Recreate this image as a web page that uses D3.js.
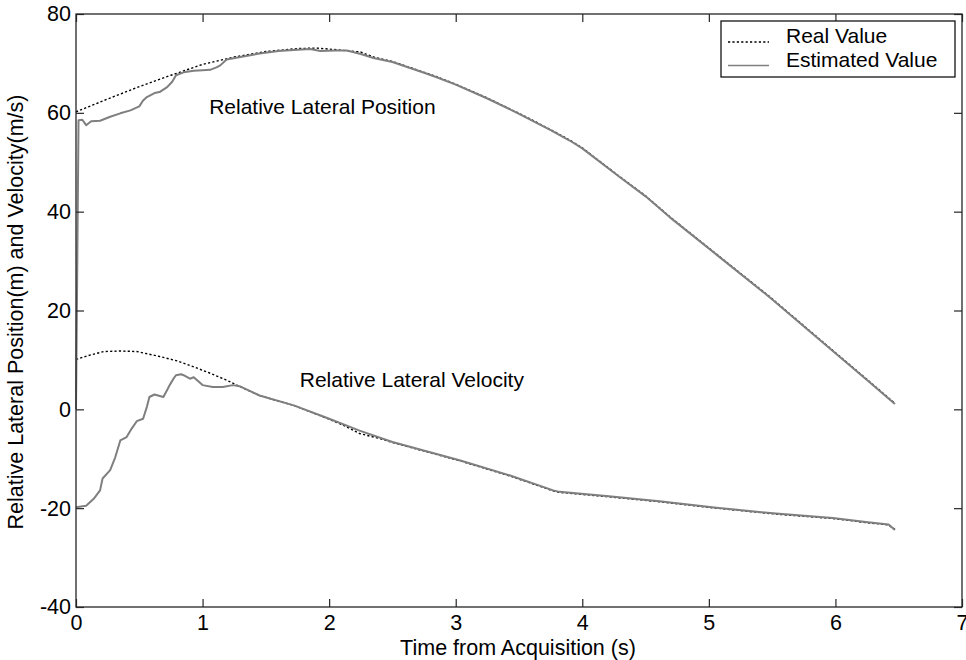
<!DOCTYPE html>
<html>
<head>
<meta charset="utf-8">
<script src="https://cdn.jsdelivr.net/npm/d3@7"></script>
<style>
  html, body { margin: 0; padding: 0; background: #fff; }
  svg { display: block; }
  text { font-family: "Liberation Sans", Arial, Helvetica, sans-serif; fill: #000; }
</style>
</head>
<body>
<svg id="chart" width="966" height="660"></svg>
<script>
// Relative lateral position (m): true trajectory
const realPosT = [0, 0.25, 0.5, 0.75, 1.0, 1.25, 1.5, 1.75, 1.9, 2.0, 2.25, 2.35, 2.5, 2.75, 2.85, 3.0, 3.25, 3.5, 3.75, 3.9, 4.0, 4.29, 4.5, 4.69, 5.08, 5.48, 5.87, 6.27, 6.47];
const realPos  = [60.2, 62.8, 65.3, 67.6, 69.8, 71.3, 72.4, 73.0, 73.1, 72.9, 72.3, 71.3, 70.4, 68.2, 67.3, 65.8, 63.0, 59.9, 56.6, 54.5, 52.9, 47.2, 43.2, 39.0, 31.0, 22.8, 14.3, 5.6, 1.2];

// Relative lateral position (m): filter estimate
const estPosT = [0, 0.01, 0.02, 0.05, 0.08, 0.12, 0.19, 0.27, 0.35, 0.43, 0.5, 0.53, 0.56, 0.62, 0.66, 0.72, 0.76, 0.79, 0.85, 0.93, 1.0, 1.06, 1.11, 1.14, 1.19, 1.3, 1.45, 1.6, 1.72, 1.85, 1.93, 2.05, 2.14, 2.25, 2.35, 2.5, 2.75, 2.85, 3.0, 3.25, 3.5, 3.75, 3.9, 4.0, 4.29, 4.5, 4.69, 5.08, 5.48, 5.87, 6.27, 6.47];
const estPos  = [0, 29, 58.5, 58.6, 57.5, 58.3, 58.4, 59.2, 59.9, 60.5, 61.3, 62.5, 63.2, 64.0, 64.2, 65.2, 66.3, 67.6, 68.2, 68.5, 68.6, 68.7, 69.2, 69.6, 70.8, 71.3, 72.0, 72.5, 72.7, 72.9, 72.5, 72.6, 72.6, 71.9, 71.1, 70.3, 68.1, 67.2, 65.7, 62.9, 59.8, 56.5, 54.4, 52.8, 47.1, 43.1, 38.9, 30.9, 22.7, 14.2, 5.5, 1.1];

// Relative lateral velocity (m/s): true trajectory
const realVelT = [0, 0.1, 0.22, 0.35, 0.48, 0.66, 0.8, 0.93, 1.06, 1.19, 1.32, 1.45, 1.58, 1.72, 1.85, 1.98, 2.11, 2.24, 2.4, 2.5, 3.03, 3.43, 3.77, 3.82, 4.21, 4.61, 5.06, 5.53, 5.98, 6.24, 6.42, 6.47];
const realVel  = [10.1, 10.9, 11.7, 11.8, 11.7, 10.7, 9.8, 8.6, 7.3, 5.9, 4.3, 2.8, 1.8, 0.8, -0.5, -1.8, -3.2, -4.9, -5.9, -6.7, -10.4, -13.5, -16.5, -16.8, -17.7, -18.7, -20.0, -21.2, -22.1, -22.9, -23.4, -24.3];

// Relative lateral velocity (m/s): filter estimate
const estVelT = [0, 0.08, 0.14, 0.19, 0.21, 0.27, 0.31, 0.35, 0.4, 0.44, 0.48, 0.53, 0.56, 0.58, 0.62, 0.69, 0.72, 0.74, 0.77, 0.79, 0.83, 0.85, 0.9, 0.93, 1.0, 1.08, 1.16, 1.24, 1.3, 1.45, 1.72, 1.98, 2.24, 2.5, 3.03, 3.43, 3.77, 3.82, 4.21, 4.61, 5.06, 5.53, 5.98, 6.24, 6.42, 6.47];
const estVel  = [-19.8, -19.5, -18.1, -16.4, -14.0, -12.3, -9.7, -6.3, -5.6, -3.9, -2.4, -1.9, 0.5, 2.5, 3.0, 2.5, 3.9, 4.9, 6.2, 6.9, 7.1, 6.9, 6.2, 6.5, 4.9, 4.5, 4.5, 4.9, 4.6, 2.8, 0.8, -1.7, -4.3, -6.6, -10.3, -13.4, -16.4, -16.7, -17.6, -18.6, -19.9, -21.1, -22.0, -22.8, -23.3, -24.4];

const xTicks = [0, 1, 2, 3, 4, 5, 6, 7];
const yTicks = [-40, -20, 0, 20, 40, 60, 80];

const legendLabels = ["Real Value", "Estimated Value"];
const curveLabels = ["Relative Lateral Position", "Relative Lateral Velocity"];
const xTitle = "Time from Acquisition (s)";
const yTitle = "Relative Lateral Position(m) and Velocity(m/s)";

const svg = d3.select("#chart");
const plot = { left: 76, right: 962, top: 14, bottom: 607 };

const x = d3.scaleLinear().domain([0, 7]).range([plot.left, plot.right]);
const y = d3.scaleLinear().domain([-40, 80]).range([plot.bottom, plot.top]);

const axisColor = "#262626";
const tickLen = 8;
const fontSize = 21.5;
const labelSize = 21;
const fmt = d => String(d);

// Series lines
const zip = (ts, vs) => ts.map((t, i) => [t, vs[i]]);
const line = d3.line().x(d => x(d[0])).y(d => y(d[1])).curve(d3.curveLinear);

const realStyle = { stroke: "#000", width: 1.4, dash: "2.2,2.2" };
const estStyle = { stroke: "#7f7f7f", width: 2, dash: null };

const series = [
  { data: zip(realPosT, realPos), style: realStyle },
  { data: zip(realVelT, realVel), style: realStyle },
  { data: zip(estPosT, estPos), style: estStyle },
  { data: zip(estVelT, estVel), style: estStyle }
];

svg.append("g").selectAll("path")
  .data(series)
  .join("path")
  .attr("d", d => line(d.data))
  .attr("fill", "none")
  .attr("stroke", d => d.style.stroke)
  .attr("stroke-width", d => d.style.width)
  .attr("stroke-dasharray", d => d.style.dash)
  .attr("stroke-linejoin", "round");

// Axes: ticks point inward on all four sides
const gAxes = svg.append("g");

gAxes.append("g")
  .attr("transform", `translate(0,${plot.bottom})`)
  .call(d3.axisBottom(x).tickValues(xTicks).tickSize(-tickLen).tickPadding(8).tickFormat(fmt))
  .call(g => g.select(".domain").remove());

gAxes.append("g")
  .attr("transform", `translate(0,${plot.top})`)
  .call(d3.axisTop(x).tickValues(xTicks).tickSize(-tickLen).tickFormat(""))
  .call(g => g.select(".domain").remove());

gAxes.append("g")
  .attr("transform", `translate(${plot.left},0)`)
  .call(d3.axisLeft(y).tickValues(yTicks).tickSize(-tickLen).tickPadding(5).tickFormat(fmt))
  .call(g => g.select(".domain").remove());

gAxes.append("g")
  .attr("transform", `translate(${plot.right},0)`)
  .call(d3.axisRight(y).tickValues(yTicks).tickSize(-tickLen).tickFormat(""))
  .call(g => g.select(".domain").remove());

gAxes.selectAll(".tick line").attr("stroke", axisColor).attr("stroke-width", 1.2);
gAxes.selectAll(".tick text")
  .attr("font-size", fontSize)
  .style("font-family", "'Liberation Sans', Arial, sans-serif")
  .attr("fill", "#000");

// Plot frame
svg.append("rect")
  .attr("x", plot.left).attr("y", plot.top)
  .attr("width", plot.right - plot.left).attr("height", plot.bottom - plot.top)
  .attr("fill", "none").attr("stroke", axisColor).attr("stroke-width", 1.3);

// Axis titles
svg.append("text")
  .attr("x", 518)
  .attr("y", 655)
  .attr("text-anchor", "middle")
  .attr("font-size", fontSize)
  .text(xTitle);

svg.append("text")
  .attr("transform", `translate(23,312) rotate(-90)`)
  .attr("text-anchor", "middle")
  .attr("font-size", fontSize)
  .text(yTitle);

// Curve annotations
svg.append("text")
  .attr("x", x(1.052)).attr("y", y(59.85))
  .attr("font-size", labelSize)
  .text(curveLabels[0]);

svg.append("text")
  .attr("x", x(1.768)).attr("y", y(4.57))
  .attr("font-size", labelSize)
  .text(curveLabels[1]);

// Legend
const legend = svg.append("g").attr("transform", "translate(721,21)");
legend.append("rect")
  .attr("width", 234).attr("height", 56)
  .attr("fill", "#fff").attr("stroke", "#000").attr("stroke-width", 1.2);

const legendStyles = [realStyle, estStyle];
legendLabels.forEach((label, i) => {
  const base = 22 + i * 23.5;
  legend.append("line")
    .attr("x1", 7).attr("x2", 48).attr("y1", base - 1).attr("y2", base - 1)
    .attr("stroke", legendStyles[i].stroke)
    .attr("stroke-width", i === 0 ? 1.3 : 1.5)
    .attr("stroke-dasharray", legendStyles[i].dash);
  legend.append("text")
    .attr("x", 65).attr("y", base)
    .attr("font-size", labelSize)
    .text(label);
});
</script>
</body>
</html>
